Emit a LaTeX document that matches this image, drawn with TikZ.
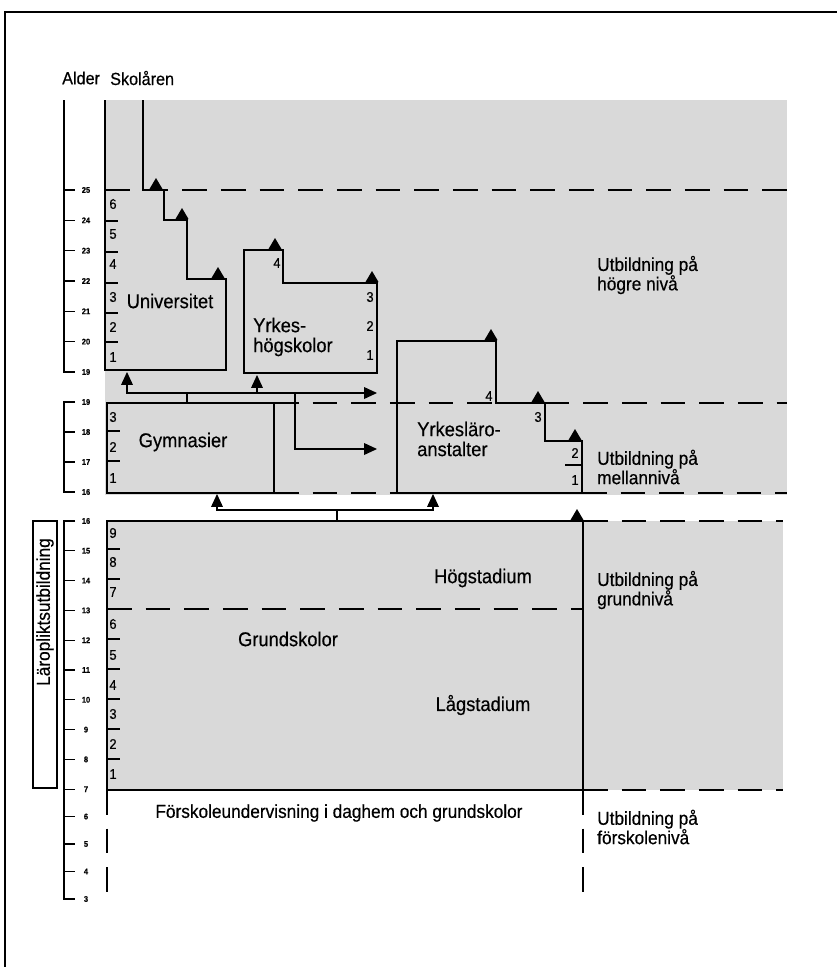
\documentclass[tikz,border=0pt]{standalone}
\usepackage{fontspec}
\setmainfont{Liberation Sans}[FakeStretch=0.92,FakeBold=0.4]
\usetikzlibrary{arrows.meta}
\tikzstyle{zone}=[fill=black!15,draw=none]
\tikzstyle{boxline}=[draw,line width=2.4pt,line join=miter]
\tikzstyle{levelline}=[draw,line width=0.9pt,dash pattern=on 21pt off 12pt]
\tikzstyle{link}=[draw,line width=0.9pt]
\tikzstyle{conn}=[draw,line width=0.9pt,-{Triangle[width=10pt,length=11pt]}]
\tikzstyle{big}=[font=\fontsize{16}{16.5}\selectfont,inner sep=0pt]
\tikzstyle{boxtext}=[font=\fontsize{17}{17}\selectfont,inner sep=0pt]
\tikzstyle{levtext}=[big,anchor=west,align=left]
\tikzstyle{yearnum}=[font=\fontsize{12}{12}\selectfont,inner sep=0pt]
\tikzstyle{agenum}=[font=\fontsize{7}{7}\selectfont\bfseries,inner sep=0pt]
\tikzstyle{axistitle}=[font=\fontsize{15}{15}\selectfont,anchor=west,inner sep=0pt]
\newcommand{\steptri}[1]{\fill (#1) ++(-6.5,0) -- ++(13,0) -- ++(-6.5,-11) -- cycle;}

\begin{document}
\begin{tikzpicture}[x=0.03cm,y=-0.03cm]
\useasboundingbox (0,0) rectangle (837,967);
% frame
\draw[line width=1pt] (5,967) -- (5,12) -- (837,12);
% shaded levels
\fill[zone] (105,100) rectangle (787,495);
\fill[zone] (107,521) rectangle (783,790);

% level boundaries
\draw[levelline] (105,190) -- (787,190);
\draw[levelline] (274,403) -- (787,403);
\draw[levelline] (274,493) -- (397,493);
\draw[levelline] (582,493) -- (787,493);
\draw[levelline] (583,521) -- (783,521);
\draw[levelline] (107,609) -- (583,609);
\draw[levelline] (583,790) -- (783,790);
\draw[levelline] (107,790) -- (107,899);
\draw[levelline] (583,790) -- (583,899);

% age axis
\node[axistitle] (alder) at (62,78) {Alder};
\node[axistitle] (skolar) at (110,78) {Skolåren};
\draw[link] (64,100) -- (64,372) -- (75,372);
\foreach \a in {20,...,25}
  \draw[link] (64,{190+(25-\a)*30.33}) -- ++(11,0);
\foreach \a in {19,...,25}
  \node[agenum] (h\a) at (86,{190+(25-\a)*30.33}) {\a};
\draw[link] (75,402) -- (64,402) -- (64,492) -- (75,492);
\foreach \a in {17,18}
  \draw[link] (64,{402+(19-\a)*30}) -- ++(11,0);
\foreach \a in {16,...,19}
  \node[agenum] (m\a) at (86,{402+(19-\a)*30}) {\a};
\draw[link] (75,521) -- (64,521) -- (64,899) -- (75,899);
\foreach \a in {7,...,15}
  \draw[link] (64,{521+(16-\a)*29.8}) -- ++(11,0);
\foreach \a in {7,...,16}
  \node[agenum] (g\a) at (86,{521+(16-\a)*29.8}) {\a};
\foreach \a in {4,5,6}
  \draw[link] (64,{789+(7-\a)*27.5}) -- ++(11,0);
\foreach \a in {3,...,6}
  \node[agenum] (f\a) at (86,{789+(7-\a)*27.5}) {\a};

% compulsory schooling
\draw[line width=1pt] (33,521) rectangle (57,788);
\node[big,rotate=90] (laroplikt) at (45,612) {Läropliktsutbildning};

% universitet
\draw[boxline] (143,100) -- (143,190) -- (164,190) -- (164,220) -- (187,220)
  -- (187,279) -- (226,279) -- (226,370) -- (105,370) -- (105,100);
\foreach \y in {221,252,283,313,342}
  \draw[link] (105,\y) -- ++(13,0);
\foreach \n/\y in {6/204,5/234,4/264,3/297,2/327,1/357}
  \node[yearnum] (u\n) at (113,\y) {\n};
\node[boxtext] (uni) at (170,301) {Universitet};
\steptri{156,189} \steptri{182,219} \steptri{218,278}

% yrkeshogskolor
\draw[boxline] (244,250) -- (283,250) -- (283,283) -- (377,283) -- (377,373)
  -- (244,373) -- cycle;
\node[yearnum] (yh4) at (277,263) {4};
\foreach \n/\y in {3/297,2/326,1/355}
  \node[yearnum] (yh\n) at (370,\y) {\n};
\node[boxtext,anchor=west,align=left] (yh) at (253,337) {Yrkes-\\högskolor};
\steptri{275,249} \steptri{372,282}

% gymnasier
\draw[boxline] (107,403) rectangle (274,493);
\foreach \y in {431,461}
  \draw[link] (107,\y) -- ++(13,0);
\foreach \n/\y in {3/417,2/447,1/478}
  \node[yearnum] (gy\n) at (113,\y) {\n};
\node[boxtext] (gym) at (183,442) {Gymnasier};

% yrkeslaroanstalter
\draw[boxline] (397,341) -- (496,341) -- (496,403) -- (545,403) -- (545,441)
  -- (582,441) -- (582,493) -- (397,493) -- cycle;
\draw[link] (565,465) -- (582,465);
\node[yearnum] (yl4) at (489,396) {4};
\node[yearnum] (yl3) at (538,417) {3};
\node[yearnum] (yl2) at (575,453) {2};
\node[yearnum] (yl1) at (575,480) {1};
\node[boxtext,anchor=west,align=left] (yl) at (417,439) {Yrkesläro-\\anstalter};
\steptri{491,340} \steptri{538,402} \steptri{575,440}

% grundskolor
\draw[boxline] (107,521) rectangle (583,790);
\foreach \y in {549,579,639,669,699,729,759}
  \draw[link] (107,\y) -- ++(13,0);
\foreach \n/\y in {9/533,8/562,7/592,6/624,5/655,4/685,3/714,2/744,1/774}
  \node[yearnum] (gr\n) at (113,\y) {\n};
\node[boxtext] (grund) at (288,639) {Grundskolor};
\node[boxtext] (hog) at (483,578) {Högstadium};
\node[boxtext] (lag) at (483,705) {Lågstadium};
\steptri{577,520}
\node[big] (forskola) at (339,813) {Förskoleundervisning i daghem och grundskolor};

% transitions
\coordinate (gtop) at (187,403);
\coordinate (j1) at (187,393);
\coordinate (uniin) at (127,372);
\coordinate (yhin) at (257,375);
\coordinate (yhout) at (377,393);
\coordinate (fork) at (295,393);
\coordinate (ylin) at (377,449);
\draw[link] (gtop) -- (j1);
\draw[conn] (j1) -| (uniin);
\draw[conn] (j1) -- (yhout);
\draw[conn] (yhin |- j1) -- (yhin);
\draw[conn] (fork) |- (ylin);
\coordinate (grtop) at (337,521);
\coordinate (j2) at (337,510);
\coordinate (gymin) at (217,494);
\coordinate (ylbot) at (433,494);
\draw[link] (grtop) -- (j2);
\draw[conn] (j2) -| (gymin);
\draw[conn] (j2) -| (ylbot);

% levels
\node[levtext] (hogre) at (597,275) {Utbildning på\\högre nivå};
\node[levtext] (mellan) at (597,467) {Utbildning på\\mellannivå};
\node[levtext] (grundniva) at (597,590) {Utbildning på\\grundnivå};
\node[levtext] (forniva) at (597,827) {Utbildning på\\förskolenivå};
\end{tikzpicture}
\end{document}
